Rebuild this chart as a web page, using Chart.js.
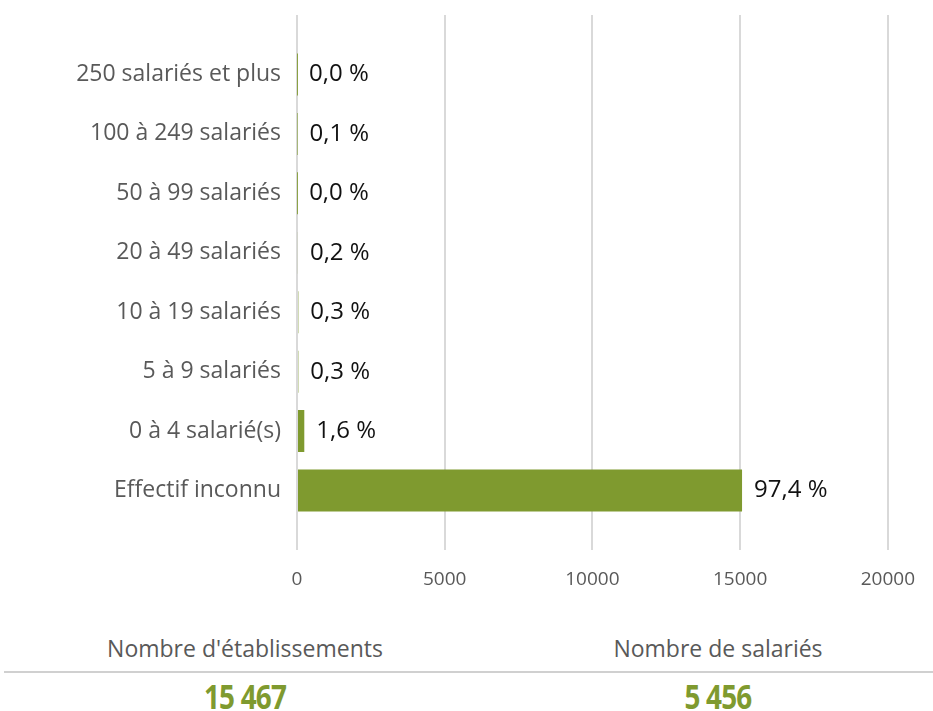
<!DOCTYPE html>
<html>
<head>
<meta charset="utf-8">
<script src="https://cdn.jsdelivr.net/npm/chart.js@4/dist/chart.umd.min.js"></script>
<style>
    body { margin: 0; background: #fff; font-family: 'Open Sans', sans-serif; }
    #wrap { position: relative; width: 933px; height: 711px; }
    #chartBox { position: absolute; left: 0; top: 0; width: 933px; height: 610px; }
    .lbl { position: absolute; width: 400px; text-align: center; color: #595959; font-size: 23px; line-height: 30px; }
    .num { position: absolute; width: 400px; text-align: center; color: #7f9a2f; font-size: 34px; line-height: 40px; font-weight: bold;
           transform: scaleX(0.82); letter-spacing: -1px; }
    #sep { position: absolute; left: 4px; top: 671px; width: 929px; height: 2px; background: #d0d0d0; }
</style>
</head>
<body>
<div id="wrap">
    <div id="chartBox"><canvas id="barChart"></canvas></div>
    <div class="lbl" style="left:45px; top:633px;">Nombre d'établissements</div>
    <div class="lbl" style="left:518px; top:633px;">Nombre de salariés</div>
    <div id="sep"></div>
    <div class="num" style="left:45px; top:676px;">15 467</div>
    <div class="num" style="left:518px; top:676px;">5 456</div>
</div>
<script>
// tranches d'effectif (haut -> bas)
var categories = ['250 salariés et plus', '100 à 249 salariés', '50 à 99 salariés', '20 à 49 salariés',
    '10 à 19 salariés', '5 à 9 salariés', '0 à 4 salarié(s)', 'Effectif inconnu'];
// nombre d'établissements
var etablissements = [4, 15, 5, 31, 46, 46, 247, 15065];
// parts affichées
var pctLabels = ['0,0 %', '0,1 %', '0,0 %', '0,2 %', '0,3 %', '0,3 %', '1,6 %', '97,4 %'];
var xTicks = [0, 5000, 10000, 15000, 20000];

var GREEN = '#7f9a2f';

// étiquettes de valeurs au bout des barres
var valueLabels = {
    id: 'valueLabels',
    afterDatasetsDraw(chart) {
        var ctx = chart.ctx;
        var meta = chart.getDatasetMeta(0);
        ctx.save();
        ctx.font = '24px "Open Sans"';
        ctx.fillStyle = '#111';
        ctx.textBaseline = 'middle';
        ctx.textAlign = 'left';
        meta.data.forEach((bar, i) => {
            ctx.fillText(pctLabels[i], bar.x + 12, bar.y);
        });
        ctx.restore();
    }
};

function barChart() {
    var el = document.getElementById('barChart');
    new Chart(el, {
        type: 'bar',
        data: {
            labels: categories,
            datasets: [{
                data: etablissements,
                backgroundColor: GREEN,
                barPercentage: 0.707,
                categoryPercentage: 1
            }]
        },
        options: {
            indexAxis: 'y',
            responsive: true,
            maintainAspectRatio: false,
            animation: false,
            layout: { padding: { top: 15, right: 42, bottom: 0, left: 0 } },
            plugins: { legend: { display: false }, tooltip: { enabled: false } },
            scales: {
                x: {
                    min: 0,
                    max: 20000,
                    afterBuildTicks: s => { s.ticks = xTicks.map(v => ({ value: v })); },
                    afterFit: s => { s.height = 60; },
                    grid: { color: '#d9d9d9', lineWidth: 2, drawTicks: false },
                    border: { display: false },
                    ticks: {
                        color: '#595959', font: { family: 'Open Sans', size: 19 }, padding: 18,
                        callback: v => String(v)
                    }
                },
                y: {
                    grid: { display: false, drawTicks: false },
                    border: { display: false },
                    ticks: { color: '#595959', font: { family: 'Open Sans', size: 23 }, padding: 16 },
                    afterFit: s => { s.width = 297; s.paddingTop = 0; s.paddingBottom = 0; },
                    // une demi-case vide en plus en haut et en bas
                    afterBuildTicks: s => { s._startValue -= 0.5; s._valueRange += 1; }
                }
            }
        },
        plugins: [valueLabels]
    });
}

barChart();
</script>
</body>
</html>
